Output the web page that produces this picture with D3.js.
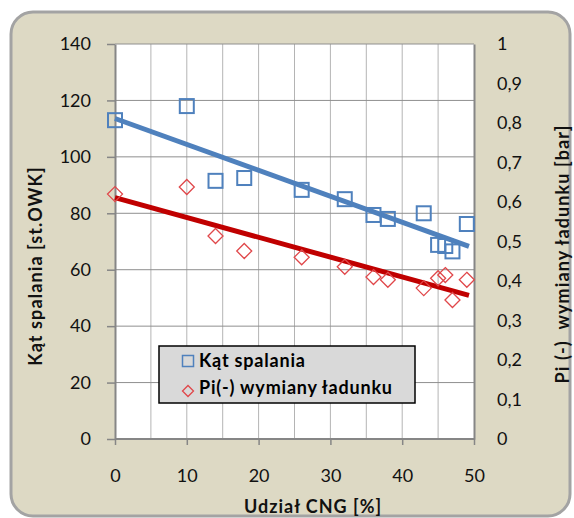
<!DOCTYPE html>
<html><head><meta charset="utf-8">
<script src="https://cdn.jsdelivr.net/npm/d3@7"></script>
<style>body{margin:0;background:#fff}svg{display:block}</style>
</head><body>
<svg id="c" width="574" height="518"></svg>
<script>
// Data
const cngShare = [0,10,14,18,26,32,36,38,43,45,46,47,49];
const katSpalania = [113,118,91.5,92.5,88.3,85,79.4,78,80,68.8,68.4,66.5,76.2];
const piShare = [0,10,14,18,26,32,36,38,43,45,46,47,49];
const piWymiany = [0.62,0.638,0.514,0.476,0.46,0.436,0.41,0.403,0.382,0.407,0.415,0.352,0.403];
const xTicks = [0,10,20,30,40,50];
const yLeftTicks = [0,20,40,60,80,100,120,140];
const yRightTicks = [0,0.1,0.2,0.3,0.4,0.5,0.6,0.7,0.8,0.9,1];
const seriesNames = ["Kąt spalania","Pi(-) wymiany ładunku"];

const svg = d3.select("#c");
const F = "Lato, 'Open Sans', sans-serif";
const L=115, R=474, T=44, B=439;
const x = d3.scaleLinear().domain([0,50]).range([L,R]);
const yl = d3.scaleLinear().domain([0,140]).range([B,T]);
const yr = d3.scaleLinear().domain([0,1]).range([B,T]);

// background
svg.append("rect").attr("x",11).attr("y",12).attr("width",559).attr("height",504)
  .attr("rx",22).attr("fill","#ddd9c4").attr("stroke","#a3a3a3").attr("stroke-width",3);

svg.append("rect").attr("x",L).attr("y",T).attr("width",R-L).attr("height",B-T).attr("fill","#fff");

// grid
svg.append("g").selectAll("line").data(d3.range(5,50,5)).join("line")
  .attr("x1",d=>x(d)).attr("x2",d=>x(d)).attr("y1",T).attr("y2",B)
  .attr("stroke","#b4b4b4").attr("stroke-width",1);
svg.append("g").selectAll("line").data(yLeftTicks.slice(1)).join("line")
  .attr("x1",L).attr("x2",R).attr("y1",d=>yl(d)).attr("y2",d=>yl(d))
  .attr("stroke","#8f8f8f").attr("stroke-width",1);

// axes
const gl = svg.append("g").attr("transform",`translate(${L},0)`)
  .call(d3.axisLeft(yl).tickValues(yLeftTicks).tickSize(8).tickPadding(16).tickSizeOuter(0));
const gr = svg.append("g").attr("transform",`translate(${R},0)`)
  .call(d3.axisRight(yr).tickValues(yRightTicks).tickSize(0).tickPadding(23).tickSizeOuter(0)
  .tickFormat(d=>d3.format("")(d).replace(".",",")));
const gx = svg.append("g").attr("transform",`translate(0,${B})`)
  .call(d3.axisBottom(x).tickValues(xTicks).tickSize(6).tickPadding(24).tickSizeOuter(0));
[gl,gr,gx].forEach(g=>{
  g.select(".domain").attr("stroke","#868686").attr("stroke-width",2);
  g.selectAll(".tick line").attr("stroke","#868686").attr("stroke-width",1.5);
  g.selectAll("text").attr("font-family",F).attr("font-size",18).attr("fill","#111");
});
gx.select(".domain").attr("d",`M${L},0H${R}`);

// trend lines (least squares)
function fit(xs,ys){
  const mx=d3.mean(xs), my=d3.mean(ys);
  const b=d3.sum(xs,(v,i)=>(v-mx)*(ys[i]-my))/d3.sum(xs,v=>(v-mx)*(v-mx));
  return [b,my-b*mx];
}
const [b1,a1]=fit(cngShare,katSpalania);
const [b2,a2]=fit(piShare,piWymiany);
const x0=d3.min(cngShare), x1=d3.max(cngShare)+0.3;
svg.append("line").attr("x1",x(x0)).attr("x2",x(x1)).attr("y1",yl(a1+b1*x0)).attr("y2",yl(a1+b1*x1))
  .attr("stroke","#4f81bd").attr("stroke-width",5);
svg.append("line").attr("x1",x(x0)).attr("x2",x(x1)).attr("y1",yr(a2+b2*x0)).attr("y2",yr(a2+b2*x1))
  .attr("stroke","#c00000").attr("stroke-width",5);

// markers
svg.append("g").selectAll("rect").data(cngShare).join("rect")
  .attr("x",(d)=>x(d)-7).attr("y",(d,i)=>yl(katSpalania[i])-7).attr("width",14).attr("height",14)
  .attr("fill","none").attr("stroke","#4f81bd").attr("stroke-width",2);
const dia = s=>`M0,${-s}L${s},0L0,${s}L${-s},0Z`;
svg.append("g").selectAll("path").data(piShare).join("path")
  .attr("transform",(d,i)=>`translate(${x(d)},${yr(piWymiany[i])})`)
  .attr("d",dia(7.5)).attr("fill","none").attr("stroke","#e0474a").attr("stroke-width",1.3);

// legend
svg.append("rect").attr("x",159).attr("y",346).attr("width",256).attr("height",57)
  .attr("fill","#d9d9d9").attr("stroke","#000").attr("stroke-width",1.5);
svg.append("rect").attr("x",182.5).attr("y",355.5).attr("width",11).attr("height",11)
  .attr("fill","none").attr("stroke","#4f81bd").attr("stroke-width",1.5);
svg.append("path").attr("transform","translate(188,391)").attr("d",dia(5.5))
  .attr("fill","none").attr("stroke","#e0474a").attr("stroke-width",1.3);
svg.append("g").selectAll("text").data(seriesNames).join("text")
  .attr("x",199).attr("y",(d,i)=>367+i*27).text(d=>d)
  .attr("font-family",F).attr("font-size",18).attr("font-weight","bold").attr("letter-spacing",0.8).attr("fill","#000");

// axis titles
svg.append("text").attr("x",313).attr("y",513).attr("text-anchor","middle").text("Udział CNG [%]")
  .attr("font-family",F).attr("font-size",18).attr("font-weight","bold").attr("letter-spacing",1).attr("fill","#111");
svg.append("text").attr("transform","translate(42,266) rotate(-90)").attr("text-anchor","middle")
  .text("Kąt spalania [st.OWK]").attr("font-family",F).attr("font-size",18).attr("font-weight","bold")
  .attr("letter-spacing",1.1).attr("fill","#111");
svg.append("text").attr("transform","translate(569,254) rotate(-90)").attr("text-anchor","middle")
  .text("Pi (-)  wymiany ładunku [bar]").attr("font-family",F).attr("font-size",18).attr("font-weight","bold")
  .attr("letter-spacing",1.1).attr("fill","#111").style("white-space","pre");
</script>
</body></html>
